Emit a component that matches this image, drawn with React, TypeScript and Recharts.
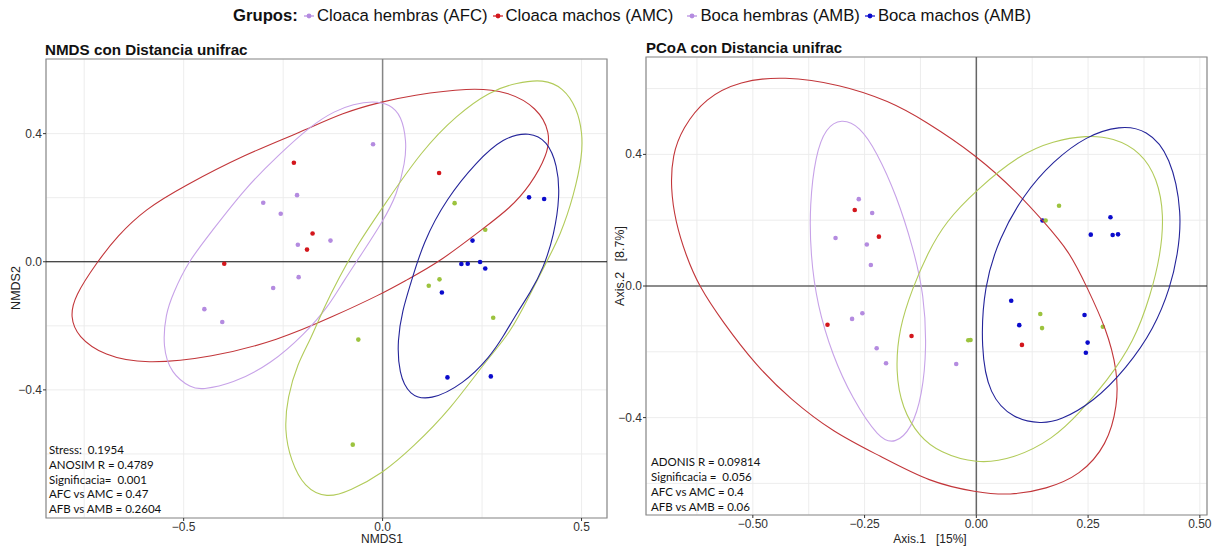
import React from "react";
import { ScatterChart, Scatter, XAxis, YAxis, CartesianGrid, ReferenceLine, ReferenceArea } from "recharts";

type Pt = [number, number];

// ---- NMDS panel: points ----
const nmdsLilac: Pt[] = [[-0.024, 0.367], [-0.215, 0.208], [-0.3, 0.184], [-0.256, 0.15], [-0.131, 0.066], [-0.213, 0.053], [-0.211, -0.048], [-0.275, -0.082], [-0.448, -0.148], [-0.403, -0.188]];
const nmdsRed: Pt[] = [[-0.223, 0.309], [0.142, 0.277], [-0.176, 0.088], [-0.19, 0.038], [-0.398, -0.006]];
const nmdsGreen: Pt[] = [[0.181, 0.183], [0.258, 0.1], [0.143, -0.055], [0.116, -0.075], [0.278, -0.175], [-0.061, -0.243], [-0.075, -0.571]];
const nmdsBlue: Pt[] = [[0.368, 0.201], [0.406, 0.196], [0.226, 0.066], [0.198, -0.007], [0.214, -0.006], [0.245, -0.001], [0.258, -0.021], [0.149, -0.096], [0.163, -0.361], [0.272, -0.358]];

// ---- NMDS panel: ellipse outlines ----
const nmdsRedEllipse: Pt[] = [[0.422, 0.404], [0.414, 0.333], [0.372, 0.24], [0.32, 0.167], [0.253, 0.104], [0.144, 0.0], [0.06, -0.057], [0.0, -0.099], [-0.126, -0.172], [-0.262, -0.245], [-0.43, -0.299], [-0.597, -0.32], [-0.7, -0.294], [-0.767, -0.234], [-0.785, -0.172], [-0.775, -0.109], [-0.717, 0.0], [-0.667, 0.08], [-0.597, 0.164], [-0.5, 0.236], [-0.346, 0.335], [-0.207, 0.404], [-0.098, 0.467], [0.0, 0.5], [0.07, 0.519], [0.219, 0.544], [0.314, 0.533], [0.389, 0.481]];
const nmdsLilacEllipse: Pt[] = [[-0.024, 0.502], [0.018, 0.492], [0.048, 0.455], [0.06, 0.375], [0.057, 0.312], [0.036, 0.208], [0.0, 0.125], [-0.049, 0.031], [-0.099, -0.062], [-0.137, -0.141], [-0.195, -0.224], [-0.279, -0.318], [-0.379, -0.382], [-0.455, -0.399], [-0.48, -0.395], [-0.532, -0.349], [-0.553, -0.266], [-0.545, -0.161], [-0.527, -0.1], [-0.489, 0.0], [-0.43, 0.094], [-0.346, 0.229], [-0.262, 0.333], [-0.178, 0.427], [-0.12, 0.471], [-0.074, 0.492]];
const nmdsGreenEllipse: Pt[] = [[0.404, 0.57], [0.454, 0.544], [0.489, 0.479], [0.502, 0.401], [0.502, 0.333], [0.481, 0.208], [0.447, 0.083], [0.412, 0.0], [0.37, -0.104], [0.32, -0.224], [0.261, -0.307], [0.169, -0.463], [0.077, -0.578], [0.0, -0.661], [-0.082, -0.715], [-0.14, -0.739], [-0.197, -0.705], [-0.231, -0.62], [-0.247, -0.526], [-0.239, -0.422], [-0.214, -0.318], [-0.18, -0.24], [-0.15, -0.15], [-0.11, -0.05], [-0.06, 0.06], [0.0, 0.17], [0.1, 0.35], [0.186, 0.458], [0.27, 0.533], [0.337, 0.559]];
const nmdsBlueEllipse: Pt[] = [[0.37, 0.406], [0.414, 0.377], [0.439, 0.302], [0.446, 0.208], [0.431, 0.083], [0.404, -0.021], [0.37, -0.099], [0.337, -0.161], [0.305, -0.23], [0.27, -0.297], [0.203, -0.382], [0.119, -0.434], [0.067, -0.418], [0.041, -0.349], [0.037, -0.245], [0.05, -0.151], [0.069, -0.075], [0.102, 0.062], [0.161, 0.198], [0.236, 0.312], [0.303, 0.388]];

// ---- PCoA panel: points ----
const pcoaLilac: Pt[] = [[-0.263, 0.264], [-0.233, 0.222], [-0.315, 0.146], [-0.245, 0.126], [-0.236, 0.064], [-0.255, -0.083], [-0.278, -0.1], [-0.223, -0.189], [-0.202, -0.235], [-0.045, -0.237]];
const pcoaRed: Pt[] = [[-0.272, 0.231], [-0.218, 0.15], [-0.333, -0.118], [-0.145, -0.152], [0.102, -0.179]];
const pcoaBlue: Pt[] = [[0.148, 0.199], [0.3, 0.209], [0.256, 0.156], [0.305, 0.155], [0.317, 0.157], [0.078, -0.045], [0.242, -0.088], [0.096, -0.119], [0.249, -0.172], [0.245, -0.203]];
const pcoaGreen: Pt[] = [[0.185, 0.244], [0.155, 0.199], [0.143, -0.085], [0.147, -0.128], [0.283, -0.124], [-0.018, -0.165], [-0.013, -0.164]];

// ---- PCoA panel: ellipse outlines ----
const pcoaRedEllipse: Pt[] = [[-0.432, 0.638], [-0.305, 0.613], [-0.194, 0.562], [-0.115, 0.502], [0.0, 0.398], [0.097, 0.277], [0.149, 0.198], [0.209, 0.104], [0.246, 0.0], [0.291, -0.129], [0.316, -0.26], [0.316, -0.362], [0.293, -0.483], [0.232, -0.576], [0.157, -0.617], [0.075, -0.637], [0.0, -0.627], [-0.104, -0.597], [-0.216, -0.516], [-0.32, -0.445], [-0.417, -0.343], [-0.494, -0.24], [-0.568, -0.108], [-0.621, 0.0], [-0.65, 0.094], [-0.673, 0.195], [-0.684, 0.297], [-0.68, 0.398], [-0.658, 0.479], [-0.606, 0.572], [-0.529, 0.623]];
const pcoaLilacEllipse: Pt[] = [[-0.302, 0.509], [-0.261, 0.486], [-0.223, 0.408], [-0.179, 0.277], [-0.141, 0.115], [-0.117, -0.027], [-0.111, -0.189], [-0.121, -0.331], [-0.145, -0.435], [-0.182, -0.48], [-0.218, -0.465], [-0.278, -0.341], [-0.322, -0.21], [-0.356, -0.058], [-0.371, 0.094], [-0.373, 0.246], [-0.36, 0.398], [-0.337, 0.481]];
const pcoaGreenEllipse: Pt[] = [[0.246, 0.458], [0.306, 0.451], [0.368, 0.408], [0.405, 0.327], [0.42, 0.216], [0.412, 0.094], [0.39, -0.027], [0.353, -0.169], [0.291, -0.291], [0.232, -0.384], [0.172, -0.465], [0.082, -0.526], [0.0, -0.541], [-0.082, -0.506], [-0.128, -0.458], [-0.166, -0.372], [-0.181, -0.26], [-0.173, -0.129], [-0.143, -0.007], [-0.109, 0.1], [-0.069, 0.195], [0.0, 0.292], [0.097, 0.4], [0.172, 0.441]];
const pcoaBlueEllipse: Pt[] = [[0.321, 0.488], [0.381, 0.476], [0.435, 0.398], [0.461, 0.216], [0.45, 0.094], [0.435, 0.0], [0.398, -0.129], [0.336, -0.25], [0.261, -0.354], [0.187, -0.409], [0.146, -0.419], [0.082, -0.404], [0.028, -0.331], [0.01, -0.189], [0.017, 0.0], [0.051, 0.145], [0.105, 0.277], [0.172, 0.38], [0.246, 0.456]];

// ---- axes ----
const nmdsXDomain = [-0.846, 0.564];
const nmdsYDomain = [-0.8, 0.633];
const nmdsXTicks = [-0.75, -0.5, -0.25, 0, 0.25, 0.5];
const nmdsXLabels = [-0.5, 0, 0.5];
const nmdsYTicks = [-0.6, -0.4, -0.2, 0, 0.2, 0.4];
const nmdsYLabels = [-0.4, 0, 0.4];

const pcoaXDomain = [-0.739, 0.516];
const pcoaYDomain = [-0.696, 0.696];
const pcoaXTicks = [-0.625, -0.5, -0.375, -0.25, -0.125, 0, 0.125, 0.25, 0.375, 0.5];
const pcoaXLabels = [-0.5, -0.25, 0, 0.25, 0.5];
const pcoaYTicks = [-0.6, -0.4, -0.2, 0, 0.2, 0.4, 0.6];
const pcoaYLabels = [-0.4, 0, 0.4];

const nmdsStats = ["Stress:  0.1954", "ANOSIM R = 0.4789", "Significacia=  0.001", "AFC vs AMC = 0.47", "AFB vs AMB = 0.2604"];
const pcoaStats = ["ADONIS R = 0.09814", "Significacia =  0.056", "AFC vs AMC = 0.4", "AFB vs AMB = 0.06"];
const groupNames = ["Cloaca hembras (AFC)", "Cloaca machos (AMC)", "Boca hembras (AMB)", "Boca machos (AMB)"];

const LILAC = "#b48be0";
const RED = "#d3161c";
const GREEN = "#9cc33e";
const BLUE = "#0b0bcc";
const legendColors = [LILAC, RED, LILAC, BLUE];

const SANS = "'Liberation Sans', Arial, sans-serif";

const toXY = (pts: Pt[]) => pts.map(([x, y]) => ({ x, y }));

const fmt = (v: number, digits: number) => {
  const s = Math.abs(v).toFixed(digits);
  return v < -1e-9 ? "\u2212" + s : s;
};
const isLabel = (labels: number[], v: number) => labels.some((l) => Math.abs(l - v) < 1e-9);

function XTick(props: any) {
  const { x, y, payload, labels, digits } = props;
  if (!isLabel(labels, payload.value)) return null;
  return (
    <g>
      <line x1={x} x2={x} y1={y} y2={y + 3} stroke="#333" strokeWidth={1} />
      <text x={x} y={y + 13} textAnchor="middle" fontSize={12} fill="#333" fontFamily={SANS}>
        {fmt(payload.value, digits)}
      </text>
    </g>
  );
}

function YTick(props: any) {
  const { x, y, payload, labels, digits } = props;
  if (!isLabel(labels, payload.value)) return null;
  return (
    <g>
      <line x1={x - 3} x2={x} y1={y} y2={y} stroke="#333" strokeWidth={1} />
      <text x={x - 4} y={y + 4} textAnchor="end" fontSize={12} fill="#333" fontFamily={SANS}>
        {fmt(payload.value, digits)}
      </text>
    </g>
  );
}

const dot = (color: string) => (p: any) => <circle cx={p.cx} cy={p.cy} r={2.3} fill={color} />;
const noDot = () => <g />;

interface PanelProps {
  width: number;
  height: number;
  margin: { top: number; right: number; bottom: number; left: number };
  yAxisWidth: number;
  xAxisHeight: number;
  xDomain: number[];
  yDomain: number[];
  xTicks: number[];
  yTicks: number[];
  xLabels: number[];
  yLabels: number[];
  xDigits: number;
  yDigits: number;
  points: [Pt[], string][];
  ellipses: [Pt[], string][];
  vZeroColor: string;
  hZeroColor: string;
}

function Panel(p: PanelProps) {
  return (
    <ScatterChart width={p.width} height={p.height} margin={p.margin}>
      <CartesianGrid stroke="#ebebeb" strokeWidth={0.9} />
      <XAxis
        type="number"
        dataKey="x"
        domain={p.xDomain}
        allowDataOverflow
        ticks={p.xTicks}
        height={p.xAxisHeight}
        axisLine={false}
        tickLine={false}
        tickSize={0}
        tickMargin={0}
        interval={0}
        tick={<XTick labels={p.xLabels} digits={p.xDigits} />}
      />
      <YAxis
        type="number"
        dataKey="y"
        domain={p.yDomain}
        allowDataOverflow
        ticks={p.yTicks}
        width={p.yAxisWidth}
        axisLine={false}
        tickLine={false}
        tickSize={0}
        tickMargin={0}
        interval={0}
        tick={<YTick labels={p.yLabels} digits={p.yDigits} />}
      />
      <ReferenceLine x={0} stroke={p.vZeroColor} strokeWidth={1.5} />
      <ReferenceLine y={0} stroke={p.hZeroColor} strokeWidth={1.1} />
      {p.points.map(([pts, color], i) => (
        <Scatter key={"p" + i} data={toXY(pts)} fill={color} shape={dot(color)} isAnimationActive={false} />
      ))}
      {p.ellipses.map(([pts, color], i) => (
        <Scatter
          key={"e" + i}
          data={toXY(pts)}
          fill={color}
          line={{ stroke: color, strokeWidth: 1.1 }}
          lineJointType="basisClosed"
          shape={noDot}
          isAnimationActive={false}
        />
      ))}
      <ReferenceArea
        x1={p.xDomain[0]}
        x2={p.xDomain[1]}
        y1={p.yDomain[0]}
        y2={p.yDomain[1]}
        fill="none"
        stroke="#8a8a8a"
        strokeWidth={1.2}
      />
    </ScatterChart>
  );
}

function LegendMark({ color }: { color: string }) {
  return (
    <svg width={12} height={12} style={{ margin: "0 2px 0 3px" }}>
      <line x1={1} x2={11} y1={6} y2={6} stroke={color} strokeWidth={1.2} />
      <circle cx={6} cy={6} r={2.4} fill={color} />
    </svg>
  );
}

const abs = (left: number, top: number): React.CSSProperties => ({ position: "absolute", left, top });

export default function App() {
  return (
    <div style={{ position: "absolute", left: 0, top: 0, width: 1215, height: 546, background: "#fff", fontFamily: SANS, overflow: "hidden" }}>
      {/* legend */}
      <div style={{ ...abs(233, 6), display: "flex", alignItems: "center", fontSize: 16.7, color: "#111", whiteSpace: "nowrap" }}>
        <span style={{ fontWeight: "bold", marginRight: 2 }}>Grupos:</span>
        {groupNames.map((g, i) => (
          <span key={g} style={{ display: "flex", alignItems: "center", marginRight: i === 1 ? 10 : 1 }}>
            <LegendMark color={legendColors[i]} />
            {g}
          </span>
        ))}
      </div>

      {/* titles */}
      <div style={{ ...abs(45, 41), fontSize: 15.2, fontWeight: "bold", color: "#111" }}>NMDS con Distancia unifrac</div>
      <div style={{ ...abs(646, 39), fontSize: 15, fontWeight: "bold", color: "#111" }}>PCoA con Distancia unifrac</div>

      <div style={abs(0, 0)}>
        <Panel
          width={620}
          height={546}
          margin={{ top: 59, right: 13, bottom: 0, left: 16 }}
          yAxisWidth={30}
          xAxisHeight={28}
          xDomain={nmdsXDomain}
          yDomain={nmdsYDomain}
          xTicks={nmdsXTicks}
          yTicks={nmdsYTicks}
          xLabels={nmdsXLabels}
          yLabels={nmdsYLabels}
          xDigits={1}
          yDigits={1}
          points={[[nmdsLilac, LILAC], [nmdsRed, RED], [nmdsGreen, GREEN], [nmdsBlue, BLUE]]}
          ellipses={[[nmdsRedEllipse, "#c2363a"], [nmdsLilacEllipse, "#c7a2e8"], [nmdsGreenEllipse, "#b2cb5a"], [nmdsBlueEllipse, "#24249a"]]}
          vZeroColor="#858585"
          hZeroColor="#111"
        />
      </div>
      <div style={abs(606, 0)}>
        <Panel
          width={609}
          height={546}
          margin={{ top: 57, right: 8, bottom: 0, left: 10 }}
          yAxisWidth={30}
          xAxisHeight={31}
          xDomain={pcoaXDomain}
          yDomain={pcoaYDomain}
          xTicks={pcoaXTicks}
          yTicks={pcoaYTicks}
          xLabels={pcoaXLabels}
          yLabels={pcoaYLabels}
          xDigits={2}
          yDigits={1}
          points={[[pcoaLilac, LILAC], [pcoaRed, RED], [pcoaBlue, BLUE], [pcoaGreen, GREEN]]}
          ellipses={[[pcoaRedEllipse, "#c2363a"], [pcoaLilacEllipse, "#c7a2e8"], [pcoaGreenEllipse, "#b2cb5a"], [pcoaBlueEllipse, "#24249a"]]}
          vZeroColor="#666"
          hZeroColor="#222"
        />
      </div>

      {/* axis titles */}
      <div style={{ ...abs(326, 533), width: 112, textAlign: "center", fontSize: 12, lineHeight: "13px", color: "#222" }}>NMDS1</div>
      <div style={{ ...abs(-40, 281), width: 112, textAlign: "center", fontSize: 12.5, color: "#222", transform: "rotate(-90deg)" }}>NMDS2</div>
      <div style={{ ...abs(850, 533), width: 160, textAlign: "center", fontSize: 12, lineHeight: "13px", color: "#222", whiteSpace: "pre" }}>Axis.1   [15%]</div>
      <div style={{ ...abs(540, 259), width: 160, textAlign: "center", fontSize: 12.5, color: "#222", whiteSpace: "pre", transform: "rotate(-90deg)" }}>Axis.2   [8.7%]</div>

      {/* statistics */}
      <div style={{ ...abs(49, 443), fontFamily: "Lato, sans-serif", fontSize: 11.5, lineHeight: "14.8px", color: "#111", whiteSpace: "pre" }}>
        {nmdsStats.map((s) => (
          <div key={s}>{s}</div>
        ))}
      </div>
      <div style={{ ...abs(651, 454), fontFamily: "Lato, sans-serif", fontSize: 11.5, lineHeight: "15px", color: "#111", whiteSpace: "pre" }}>
        {pcoaStats.map((s) => (
          <div key={s}>{s}</div>
        ))}
      </div>
    </div>
  );
}
